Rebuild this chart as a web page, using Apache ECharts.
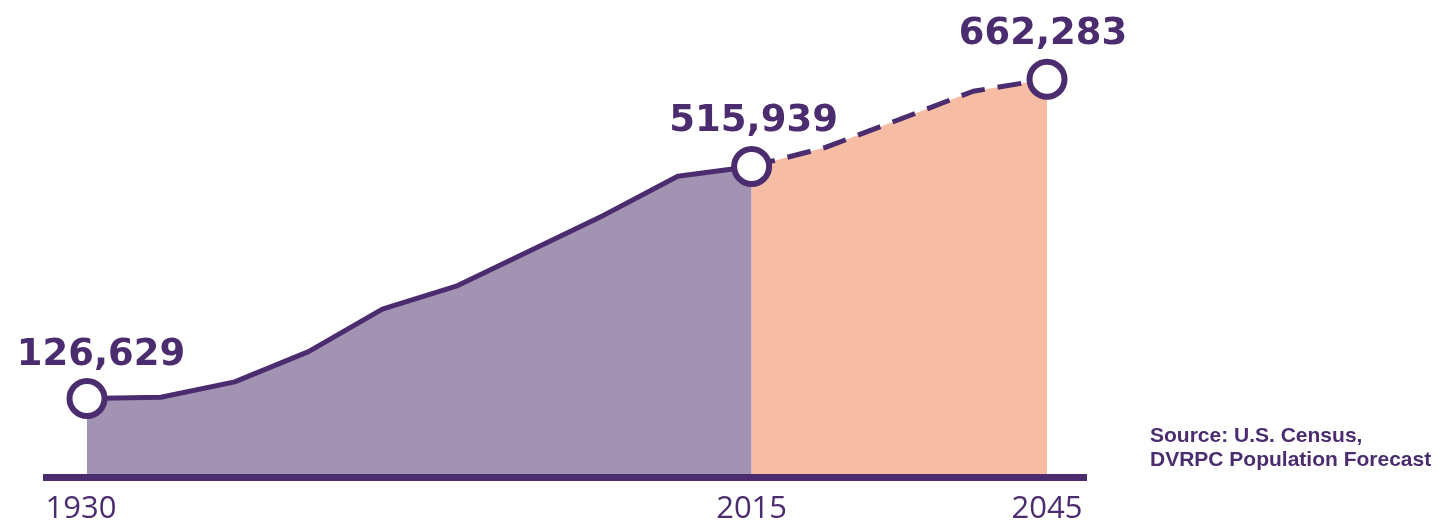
<!DOCTYPE html>
<html>
<head>
<meta charset="utf-8">
<script src="https://cdn.jsdelivr.net/npm/echarts@6/dist/echarts.min.js"></script>
<style>
  html, body { margin: 0; padding: 0; background: #ffffff; }
  #chart { width: 1446px; height: 523px; }
</style>
</head>
<body>
<div id="chart"></div>
<script>
  // years on the axis (evenly spaced, as in the original graphic)
  var years = ['1930', '1940', '1950', '1960', '1970', '1980', '1990', '2000', '2010', '2015', '2020', '2030', '2040', '2045'];
  // census counts 1930 - 2015
  var censusPop = [126629, 128800, 154500, 205200, 276500, 315000, 374600, 434200, 499600, 515939];
  // forecast 2015 - 2045
  var forecastPop = [515939, 547800, 594700, 642000, 662283];
  // years that get a circle, a big number and an axis label
  var labeledYears = ['1930', '2015', '2045'];

  var purple = '#4b2d6f';
  var start = censusPop.length - 1; // forecast starts at 2015

  function point(year, v, withLabel, offset) {
    if (v == null) return null;
    if (!withLabel) return { value: v, symbol: 'none' };
    return {
      value: v,
      symbol: 'circle',
      symbolSize: 35,
      label: { show: true, offset: offset }
    };
  }

  var censusData = years.map(function (y, i) {
    var v = i < censusPop.length ? censusPop[i] : null;
    // the 2015 circle is drawn by the forecast series, so it sits on top
    return point(y, v, y === '1930', [14, 2]);
  });
  var forecastData = years.map(function (y, i) {
    var v = i >= start ? forecastPop[i - start] : null;
    var off = y === '2015' ? [2, 0] : [-4, 0];
    return point(y, v, y === '2015' || y === '2045', off);
  });

  var bigLabel = {
    position: 'top',
    distance: 6,
    color: purple,
    fontFamily: 'DejaVu Sans',
    fontWeight: 'bold',
    fontSize: 37,
    formatter: function (p) { return p.value.toLocaleString('en-US'); }
  };

  var chart = echarts.init(document.getElementById('chart'));
  chart.setOption({
    animation: false,
    backgroundColor: '#ffffff',
    title: {
      text: 'Source: U.S. Census,\nDVRPC Population Forecast',
      left: 1150,
      top: 424,
      padding: 0,
      textStyle: {
        fontFamily: 'Liberation Sans',
        fontWeight: 'bold',
        fontSize: 21,
        lineHeight: 24,
        color: purple
      }
    },
    grid: [
      { left: 87, right: 399, top: 56.7, bottom: 49, outerBoundsMode: 'none' },
      // wider grid only for the thick base line
      { left: 43, right: 359, top: 56.7, bottom: 45.5, outerBoundsMode: 'none' }
    ],
    xAxis: [{
      type: 'category',
      data: years,
      boundaryGap: false,
      gridIndex: 0,
      axisLine: { show: false },
      axisTick: { show: false },
      axisLabel: {
        interval: function (i, v) { return labeledYears.indexOf(v) >= 0; },
        color: purple,
        fontFamily: 'Open Sans',
        fontSize: 31,
        margin: 20,
        formatter: function (v) {
          // first label sits a little left of its point in the original
          return v === '1930' ? '{first|' + v + '}' : v;
        },
        rich: {
          first: { color: purple, fontFamily: 'Open Sans', fontSize: 31, padding: [0, 12, 0, 0] }
        }
      }
    }, {
      type: 'value',
      gridIndex: 1,
      min: 0,
      max: 1,
      axisLine: { show: true, lineStyle: { color: purple, width: 7, cap: 'butt' } },
      axisTick: { show: false },
      axisLabel: { show: false },
      splitLine: { show: false }
    }],
    yAxis: [{
      type: 'value',
      gridIndex: 0,
      min: 0,
      max: 700000,
      show: false
    }, {
      type: 'value',
      gridIndex: 1,
      min: 0,
      max: 1,
      show: false
    }],
    series: [{
      name: 'Census',
      type: 'line',
      xAxisIndex: 0,
      yAxisIndex: 0,
      data: censusData,
      showSymbol: true,
      itemStyle: { color: '#ffffff', borderColor: purple, borderWidth: 6 },
      lineStyle: { color: purple, width: 5 },
      areaStyle: { color: '#a293b3', opacity: 1 },
      label: bigLabel,
      z: 3
    }, {
      name: 'Forecast',
      type: 'line',
      xAxisIndex: 0,
      yAxisIndex: 0,
      data: forecastData,
      showSymbol: true,
      itemStyle: { color: '#ffffff', borderColor: purple, borderWidth: 6 },
      lineStyle: { color: purple, width: 5, type: [24, 13] },
      areaStyle: { color: '#f7bca4', opacity: 1 },
      label: bigLabel,
      z: 4
    }]
  });
</script>
</body>
</html>
